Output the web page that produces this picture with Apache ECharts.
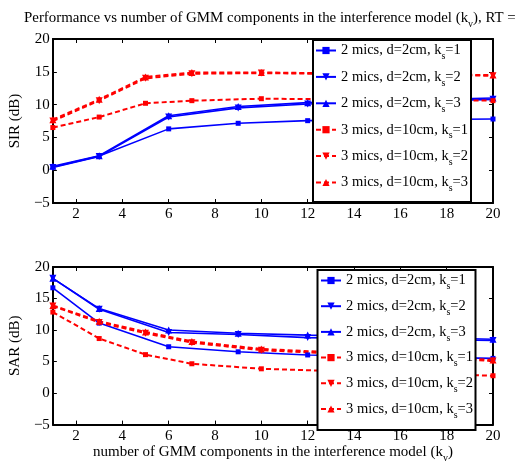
<!DOCTYPE html>
<html>
<head>
<meta charset="utf-8">
<script src="https://cdn.jsdelivr.net/npm/echarts@6/dist/echarts.min.js"></script>
<style>
html,body{margin:0;padding:0;background:#fff;}
#chart{width:516px;height:464px;}
</style>
</head>
<body>
<div id="chart"></div>
<script>
// ---- data ----
var kvBlue = [1, 3, 6, 9, 12, 20];
var kvRed = [1, 3, 5, 7, 10, 20];
var xTicks = [2, 4, 6, 8, 10, 12, 14, 16, 18, 20];

var sirBlue1 = [0.5, 2.15, 6.3, 7.15, 7.55, 7.8];
var sirBlue2 = [0.4, 2.1, 8.1, 9.5, 10.1, 10.8];
var sirBlue3 = [0.6, 2.2, 8.3, 9.7, 10.3, 11.0];
var sirRed1 = [6.5, 8.1, 10.2, 10.6, 10.9, 10.6];
var sirRed2 = [7.5, 10.6, 14.0, 14.7, 14.8, 14.4];
var sirRed3 = [7.7, 10.8, 14.2, 14.9, 14.9, 14.5];

var sarBlue1 = [16.7, 11.1, 7.35, 6.55, 6.05, 5.5];
var sarBlue2 = [18.2, 13.3, 9.6, 9.3, 8.8, 8.35];
var sarBlue3 = [18.2, 13.4, 10.0, 9.5, 9.2, 8.55];
var sarRed1 = [12.85, 8.65, 6.1, 4.65, 3.85, 2.75];
var sarRed2 = [13.8, 11.2, 9.5, 8.0, 6.8, 5.1];
var sarRed3 = [13.9, 11.4, 9.7, 8.2, 7.0, 5.25];

var names = ['2 mics, d=2cm, ks=1', '2 mics, d=2cm, ks=2', '2 mics, d=2cm, ks=3',
             '3 mics, d=10cm, ks=1', '3 mics, d=10cm, ks=2', '3 mics, d=10cm, ks=3'];

function pairs(xs, ys) { return xs.map(function (x, i) { return [x, ys[i]]; }); }

var FONT = 'Liberation Serif';
var BLUE = '#0000ff', RED = '#ff0000';

function mkSeries(name, xs, ys, grid, k, red) {
  var sym = k === 1 ? 'rect' : 'triangle';
  return {
    name: name, type: 'line',
    xAxisIndex: grid * 2, yAxisIndex: grid * 2,
    data: pairs(xs, ys),
    symbol: sym,
    symbolSize: k === 1 ? 5 : 7,
    symbolRotate: k === 2 ? 180 : 0,
    showAllSymbol: true,
    animation: false,
    lineStyle: { color: red ? RED : BLUE, width: red ? 2 : 1.6, type: red ? [5, 3] : 'solid' },
    itemStyle: { color: red ? RED : BLUE, borderWidth: 0 },
    emphasis: { disabled: true }
  };
}

var rich = {
  a: { fontFamily: FONT, fontSize: 14.5, color: '#000', lineHeight: 22 },
  s: { fontFamily: FONT, fontSize: 10, color: '#000', padding: [12, 0, 0, 0] }
};

function legendFmt(n) {
  var parts = n.split('ks');
  return '{a|' + parts[0] + 'k}{s|s}{a|' + parts[1] + '}';
}

var grids = [
  { left: 45, top: 39, width: 448, height: 164 },
  { left: 45, top: 267, width: 448, height: 165 }
];

var xAxes = [], yAxes = [];
grids.forEach(function (g, gi) {
  xAxes.push({
    type: 'value', gridIndex: gi, min: 1, max: 20, position: 'bottom',
    axisLine: { onZero: false, lineStyle: { color: '#000', width: 2 } },
    axisTick: { inside: true, length: 4, customValues: xTicks, lineStyle: { color: '#000' } },
    axisLabel: { customValues: xTicks, fontFamily: FONT, fontSize: 15, color: '#000', margin: 4 },
    splitLine: { show: false },
    name: gi === 1 ? 'number of GMM components in the interference model (k{s|v})' : '',
    nameLocation: 'middle', nameGap: 14,
    nameTextStyle: { fontFamily: FONT, fontSize: 15, color: '#000', rich: {
      s: { fontFamily: FONT, fontSize: 10, padding: [12, 0, 0, 0] } } }
  });
  xAxes.push({
    type: 'value', gridIndex: gi, min: 1, max: 20, position: 'top',
    axisLine: { onZero: false, lineStyle: { color: '#000', width: 2 } },
    axisTick: { inside: true, length: 4, customValues: xTicks, lineStyle: { color: '#000' } },
    axisLabel: { show: false }, splitLine: { show: false }
  });
  yAxes.push({
    type: 'value', gridIndex: gi, min: -5, max: 20, interval: 5, position: 'left',
    axisLine: { show: true, onZero: false, lineStyle: { color: '#000', width: 2 } },
    axisTick: { show: true, inside: true, length: 4, lineStyle: { color: '#000' } },
    axisLabel: { fontFamily: FONT, fontSize: 15, color: '#000', margin: 3,
      formatter: function (v) { return String(v).replace('-', '\u2212'); } },
    splitLine: { show: false },
    name: gi === 0 ? 'SIR (dB)' : 'SAR (dB)',
    nameLocation: 'middle', nameGap: 24, nameRotate: 90,
    nameTextStyle: { fontFamily: FONT, fontSize: 15, color: '#000' }
  });
  yAxes.push({
    type: 'value', gridIndex: gi, min: -5, max: 20, interval: 5, position: 'right',
    axisLine: { show: true, onZero: false, lineStyle: { color: '#000', width: 2 } },
    axisTick: { show: true, inside: true, length: 4, lineStyle: { color: '#000' } },
    axisLabel: { show: false }, splitLine: { show: false }
  });
});

var series = [
  mkSeries(names[0], kvBlue, sirBlue1, 0, 1, false),
  mkSeries(names[1], kvBlue, sirBlue2, 0, 2, false),
  mkSeries(names[2], kvBlue, sirBlue3, 0, 3, false),
  mkSeries(names[3], kvRed, sirRed1, 0, 1, true),
  mkSeries(names[4], kvRed, sirRed2, 0, 2, true),
  mkSeries(names[5], kvRed, sirRed3, 0, 3, true),
  mkSeries(names[0], kvBlue, sarBlue1, 1, 1, false),
  mkSeries(names[1], kvBlue, sarBlue2, 1, 2, false),
  mkSeries(names[2], kvBlue, sarBlue3, 1, 3, false),
  mkSeries(names[3], kvRed, sarRed1, 1, 1, true),
  mkSeries(names[4], kvRed, sarRed2, 1, 2, true),
  mkSeries(names[5], kvRed, sarRed3, 1, 3, true)
];

function mkLegend(left, top, gap) {
  return {
    orient: 'vertical', left: left, top: top, padding: 0,
    itemWidth: 20, itemHeight: 9, itemGap: gap,
    selectedMode: false, data: names, formatter: legendFmt,
    textStyle: { rich: rich, overflow: 'none' }, z: 10
  };
}

var chart = echarts.init(document.getElementById('chart'), null, { renderer: 'canvas' });
chart.setOption({
  backgroundColor: '#fff',
  animation: false,
  title: {
    left: 19, top: 2,
    text: 'Performance vs number of GMM components in the interference model (k{s|v}), RT = 0',
    textStyle: { fontFamily: FONT, fontSize: 14.9, fontWeight: 'normal', color: '#000',
      overflow: 'none',
      rich: { s: { fontFamily: FONT, fontSize: 10, padding: [12, 0, 0, 0] } } }
  },
  grid: grids,
  xAxis: xAxes,
  yAxis: yAxes,
  legend: [mkLegend(315, 43, 7.9), mkLegend(320, 273, 7.2)],
  graphic: [
    { type: 'rect', z: 8, shape: { x: 313, y: 40, width: 158, height: 162 },
      style: { fill: '#fff', stroke: '#000', lineWidth: 2 } },
    { type: 'rect', z: 8, shape: { x: 317.5, y: 270, width: 158, height: 160 },
      style: { fill: '#fff', stroke: '#000', lineWidth: 2 } }
  ],
  series: series
});
</script>
</body>
</html>
